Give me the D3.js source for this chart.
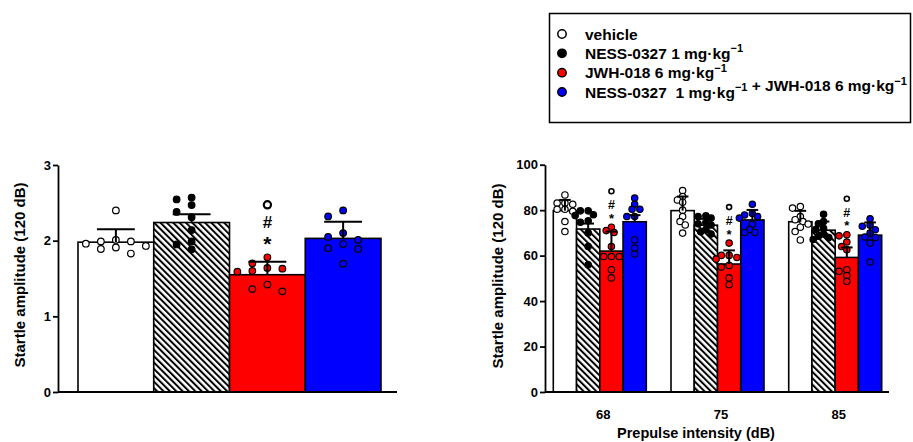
<!DOCTYPE html>
<html>
<head>
<meta charset="utf-8">
<script src="https://cdn.jsdelivr.net/npm/d3@7"></script>
<style>
	body { margin: 0; background: #fff; }
	svg text { font-family: "Liberation Sans", Arial, sans-serif; font-weight: bold; fill: #000; }
</style>
</head>
<body>
<div class="canva"></div>
<script>
// groups (legend order)
const groups = [
	"vehicle",
	"NESS-0327 1 mg·kg^-1",
	"JWH-018 6 mg·kg^-1",
	"NESS-0327  1 mg·kg^-1 + JWH-018 6 mg·kg^-1",
];

// left panel: startle amplitude, 120 dB
const leftTicks = [0, 1, 2, 3];
const leftMeans = [1.98, 2.24, 1.55, 2.03];
const leftErr = [0.17, 0.11, 0.17, 0.22];
const leftPoints = [
	[1.96, 1.99, 1.93, 2.01, 1.91, 1.99, 1.89, 1.83, 2.4],
	[2.57, 2.545, 2.47, 2.38, 2.31, 2.14, 1.99, 1.95, 1.885],
	[1.6, 1.59, 1.78, 1.63, 1.7, 1.64, 1.42, 1.36, 1.33],
	[2.4, 2.32, 2.1, 2.05, 2.01, 1.955, 1.9, 1.89, 1.695],
];

// right panel: by prepulse intensity
const prepulse = ["68", "75", "85"];
const rightTicks = [0, 20, 40, 60, 80, 100];
const rightMeans = [
	[79.8, 71.7, 62.0, 74.9],
	[79.8, 73.4, 56.3, 75.7],
	[74.9, 71.2, 59.2, 69.0],
];
const rightErr = [
	[4.7, 2.4, 8.6, 2.9],
	[6.2, 2.8, 6.0, 4.4],
	[4.8, 3.8, 4.4, 5.6],
];
const rightPoints = [
	[
		[86.7, 83.1, 83.1, 82.6, 80.4, 80.4, 79.5, 75.0, 70.6],
		[79.7, 79.7, 78.0, 77.6, 75.3, 74.7, 70.0, 64.0, 56.0],
		[72.5, 71.0, 70.2, 64.0, 59.6, 59.6, 59.6, 53.8, 50.2],
		[85.3, 82.6, 80.4, 80.4, 77.2, 77.2, 66.9, 63.3, 60.7],
	],
	[
		[88.6, 86.0, 84.5, 83.5, 80.0, 77.2, 75.0, 73.5, 69.9],
		[77.2, 77.5, 76.5, 74.5, 74.0, 73.5, 71.5, 70.5, 69.5],
		[65.5, 60.1, 60.1, 59.2, 58.5, 55.7, 55.0, 50.2, 47.2],
		[82.6, 78.5, 77.9, 77.2, 76.5, 73.8, 71.5, 70.2, 70.2],
	],
	[
		[81.6, 80.9, 77.2, 75.8, 75.0, 73.9, 72.5, 70.6, 66.9],
		[78.2, 75.0, 74.0, 72.0, 71.5, 69.5, 68.5, 68.0, 67.1],
		[69.2, 68.7, 66.0, 64.0, 62.6, 53.8, 53.1, 51.2, 48.7],
		[76.2, 73.4, 72.9, 71.4, 69.9, 68.2, 68.0, 65.5, 57.2],
	],
];

// significance marks over the JWH-018 group
const sigMarks = ["*", "#", "o"];
const sigGroup = 2;

const fills = ["#ffffff", "url(#hatch)", "#ff0000", "#0000ff"];
const dotFills = ["#ffffff", "#000000", "#ff0000", "#0000ff"];

const svg = d3
	.select(".canva")
	.append("svg")
	.attr("width", 913)
	.attr("height", 442);

// hatch pattern for NESS-0327 bars
const pat = svg
	.append("defs")
	.append("pattern")
	.attr("id", "hatch")
	.attr("patternUnits", "userSpaceOnUse")
	.attr("width", 4.5)
	.attr("height", 10)
	.attr("patternTransform", "rotate(-45)");
pat.append("rect").attr("width", 4.5).attr("height", 10).attr("fill", "#fff");
pat.append("rect").attr("width", 2).attr("height", 10).attr("fill", "#000");

// simple beeswarm: offsets from bar centre, highest value first
function swarm(values, y, step, minDist) {
	const placed = [];
	const out = [];
	const order = values.map((v, i) => i).sort((a, b) => values[b] - values[a]);
	order.forEach((i) => {
		const py = y(values[i]);
		for (let k = 0; k < 50; k++) {
			const dx = k === 0 ? 0 : (k % 2 ? -1 : 1) * Math.ceil(k / 2) * step;
			if (placed.every((p) => Math.hypot(p.dx - dx, p.py - py) >= minDist)) {
				placed.push({ dx: dx, py: py });
				out[i] = dx;
				break;
			}
		}
	});
	return out;
}

// draws bars + dots + error bars + marks for one set of groups
function drawGroups(parent, x, y, means, errs, points, opt) {
	const g = parent.append("g");
	const bw = x.bandwidth();
	g.selectAll("rect")
		.data(means)
		.enter()
		.append("rect")
		.attr("x", (d, i) => x(i))
		.attr("y", (d) => y(d))
		.attr("width", bw)
		.attr("height", (d) => y(0) - y(d))
		.attr("fill", (d, i) => fills[i])
		.attr("stroke", "#000")
		.attr("stroke-width", 1.6);

	points.forEach((vals, i) => {
		const cx = x(i) + bw / 2;
		const offs = swarm(vals, y, opt.step, opt.minDist);
		g.selectAll(null)
			.data(vals)
			.enter()
			.append("circle")
			.attr("cx", (d, j) => cx + offs[j])
			.attr("cy", (d) => y(d))
			.attr("r", opt.r)
			.attr("fill", dotFills[i])
			.attr("stroke", "#000")
			.attr("stroke-width", 1.2);
	});

	means.forEach((m, i) => {
		const cx = x(i) + bw / 2;
		const top = y(m + errs[i]);
		g.append("line")
			.attr("x1", cx).attr("x2", cx)
			.attr("y1", y(m)).attr("y2", top)
			.attr("stroke", "#000").attr("stroke-width", 2);
		g.append("line")
			.attr("x1", cx - bw / 4).attr("x2", cx + bw / 4)
			.attr("y1", top).attr("y2", top)
			.attr("stroke", "#000").attr("stroke-width", 2);
	});

	// significance marks
	const cx = x(sigGroup) + bw / 2;
	const highest = Math.min(
		y(means[sigGroup] + errs[sigGroup]),
		y(d3.max(points[sigGroup]))
	);
	let cy = highest - opt.sigOffset;
	sigMarks.forEach((s, k) => {
		if (k > 0) cy -= opt.sigGap[k - 1];
		if (s === "o") {
			g.append("circle")
				.attr("cx", cx).attr("cy", cy)
				.attr("r", opt.sigR)
				.attr("fill", "none")
				.attr("stroke", "#000")
				.attr("stroke-width", opt.sigR > 3 ? 2.2 : 1.6);
		} else {
			const fs = opt.sigFont[k];
			g.append("text")
				.attr("x", cx)
				.attr("y", cy + (s === "*" ? 0.58 : 0.36) * fs)
				.attr("text-anchor", "middle")
				.attr("font-size", fs)
				.text(s);
		}
	});
}

function styleAxis(a, fs) {
	a.selectAll("path, line").attr("stroke", "#000").attr("stroke-width", 1.8);
	a.selectAll("text")
		.attr("font-size", fs)
		.attr("font-family", '"Liberation Sans", Arial, sans-serif')
		.attr("font-weight", "bold");
}

// ---------- left panel ----------
const yL = d3.scaleLinear().domain([0, 3]).range([392, 165]);
const xL = d3.scaleBand().domain(d3.range(groups.length)).range([78, 381]).padding(0);
const left = svg.append("g");

drawGroups(left, xL, yL, leftMeans, leftErr, leftPoints, {
	step: 15, minDist: 7.5, r: 3.3,
	sigOffset: 18, sigGap: [17, 17.5], sigFont: [21, 17], sigR: 3.6,
});

left.append("line")
	.attr("x1", 58).attr("x2", 397)
	.attr("y1", yL(0)).attr("y2", yL(0))
	.attr("stroke", "#000").attr("stroke-width", 2);
const axL = left.append("g")
	.attr("transform", "translate(58,0)")
	.call(d3.axisLeft(yL).tickValues(leftTicks).tickFormat(d3.format("d")).tickSize(5).tickSizeOuter(0).tickPadding(2));
styleAxis(axL, 13);

left.append("text")
	.attr("transform", "translate(24.5,275) rotate(-90)")
	.attr("text-anchor", "middle")
	.attr("font-size", 15)
	.text("Startle amplitude (120 dB)");

// ---------- right panel ----------
const yR = d3.scaleLinear().domain([0, 100]).range([392, 164.7]);
const x0 = d3.scaleBand().domain(prepulse).range([553.3, 881.7]).paddingInner(0.21).paddingOuter(0);
const right = svg.append("g");

prepulse.forEach((p, k) => {
	const x1 = d3.scaleBand()
		.domain(d3.range(groups.length))
		.range([x0(p), x0(p) + x0.bandwidth()])
		.padding(0);
	drawGroups(right, x1, yR, rightMeans[k], rightErr[k], rightPoints[k], {
		step: 2.6, minDist: 5.6, r: 3.2,
		sigOffset: 12, sigGap: [10.5, 13.5], sigFont: [13, 12.5], sigR: 2.5,
	});
});

const axX = right.append("g")
	.attr("transform", "translate(0," + yR(0) + ")")
	.call(d3.axisBottom(x0).tickSize(0).tickSizeOuter(0).tickPadding(18));
axX.select(".domain").attr("d", "M545,0H889");
axX.selectAll(".tick text").attr("dx", 3.5);
styleAxis(axX, 13);

const axR = right.append("g")
	.attr("transform", "translate(545,0)")
	.call(d3.axisLeft(yR).tickValues(rightTicks).tickSize(5).tickSizeOuter(0).tickPadding(2));
styleAxis(axR, 13);

right.append("text")
	.attr("transform", "translate(503,276) rotate(-90)")
	.attr("text-anchor", "middle")
	.attr("font-size", 15)
	.text("Startle amplitude (120 dB)");

right.append("text")
	.attr("x", 696)
	.attr("y", 438)
	.attr("text-anchor", "middle")
	.attr("font-size", 14.5)
	.text("Prepulse intensity (dB)");

// ---------- legend ----------
const legend = svg.append("g");
legend.append("rect")
	.attr("x", 549.5).attr("y", 13.5)
	.attr("width", 361).attr("height", 109)
	.attr("fill", "#fff")
	.attr("stroke", "#000")
	.attr("stroke-width", 1.5);

const legY = d3.scalePoint().domain(d3.range(groups.length)).range([34, 92]);

groups.forEach((label, i) => {
	const cy = legY(i);
	legend.append("circle")
		.attr("cx", 562).attr("cy", cy)
		.attr("r", 4.2)
		.attr("fill", dotFills[i])
		.attr("stroke", "#000")
		.attr("stroke-width", 1.5);
	const t = legend.append("text")
		.attr("x", 585)
		.attr("y", cy + 5.5)
		.attr("font-size", 15.5)
		.attr("xml:space", "preserve")
		.style("white-space", "pre");
	label.split("^-1").forEach((part, j, arr) => {
		t.append("tspan").text(part);
		if (j < arr.length - 1) {
			t.append("tspan")
				.attr("font-size", 11)
				.attr("dy", -6.5)
				.text("\u22121");
			t.append("tspan").attr("dy", 6.5).text("");
		}
	});
});
</script>
</body>
</html>
